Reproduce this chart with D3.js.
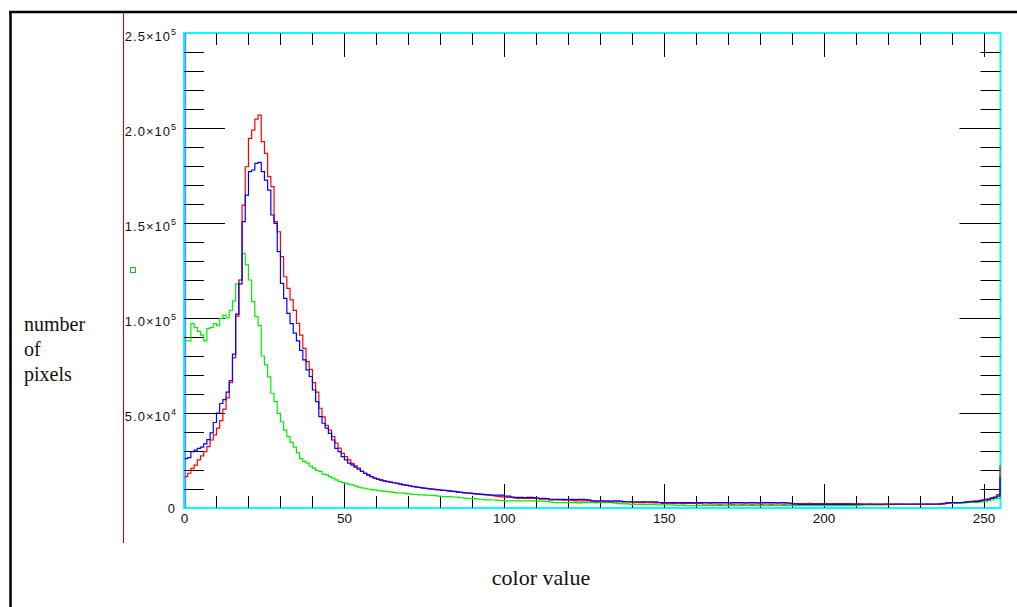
<!DOCTYPE html>
<html>
<head>
<meta charset="utf-8">
<script src="https://d3js.org/d3.v7.min.js"></script>
<style>
	body { margin: 0; background: #fff; }
	svg { display: block; }
</style>
</head>
<body>
<svg id="chart" width="1017" height="607"></svg>
<script>
// pixel counts per color value 0..255, in thousands
const redCounts = [
	16.5, 18.3, 20.9, 22.6, 25.3, 27.4, 29.7, 32.3, 35.8, 38.5,
	42, 46, 52, 58, 66, 79, 101, 120, 159.4, 179.6,
	194.5, 198.9, 204.7, 206.8, 192.8, 186.6, 174.4, 169.1, 150.7, 145.4,
	132.3, 121.7, 115.6, 109.5, 104, 97.2, 91, 84, 77, 73,
	66, 61, 52.5, 48, 43.5, 41, 37.6, 34.2, 31.5, 28.8,
	27, 25.3, 23.5, 22.2, 21, 19.4, 18.3, 17.4, 16.5, 15.7,
	15.2, 14.8, 14.3, 14, 13.6, 13.3, 13, 12.6, 12.2, 11.9,
	11.6, 11.3, 11, 10.8, 10.5, 10.3, 10.1, 9.9, 9.7, 9.5,
	9.3, 9.2, 9, 8.8, 8.6, 8.4, 8.2, 8, 7.8, 7.7,
	7.5, 7.3, 7.2, 7, 6.9, 6.7, 6.5, 6.3, 6, 5.9,
	5.7, 5.6, 5.6, 5.2, 5.1, 5.1, 5.1, 5, 5.1, 5,
	5, 4.7, 4.7, 4.6, 4.3, 4.2, 4.2, 4.2, 4.1, 4.2,
	4.1, 3.9, 3.8, 3.8, 3.8, 3.7, 3.8, 3.7, 3.4, 3.3,
	3.3, 3.3, 3.2, 3.3, 3.3, 3.2, 3.3, 3.2, 3.3, 3.1,
	2.8, 2.9, 2.8, 2.8, 2.9, 2.8, 2.8, 2.7, 2.8, 2.4,
	2.4, 2.5, 2.4, 2.4, 2.5, 2.4, 2.3, 2.4, 2.4, 2.4,
	2.3, 2.3, 2.1, 2.1, 2.2, 2.1, 2.1, 2, 2.1, 2.1,
	2.1, 2, 2.1, 2.1, 2, 2.1, 2.1, 2, 2.1, 2.1,
	2, 2.1, 2.1, 2, 2.1, 2.1, 2.1, 2, 2.1, 2.2,
	2.3, 2.3, 2.3, 2.3, 2.3, 2.4, 2.3, 2.3, 2.3, 2.3,
	2.3, 2.3, 2.3, 2.3, 2.3, 2.3, 2.3, 2.3, 2.3, 2.2,
	2.2, 2.0, 1.9, 1.9, 2.0, 1.9, 1.9, 1.9, 1.9, 2.0,
	1.9, 1.9, 1.9, 2.0, 1.9, 1.9, 1.9, 1.9, 2.0, 1.9,
	1.9, 1.9, 2.0, 1.9, 1.9, 2.0, 2.0, 2.2, 2.6, 2.7,
	2.8, 2.8, 2.9, 3.0, 3.2, 3.4, 3.6, 3.7, 3.9, 4.2,
	4.5, 4.8, 5.4, 5.8, 7.0, 22.5
];

const greenCounts = [
	88, 88, 97, 95, 93, 91, 88, 94.5, 95, 97,
	96, 99.8, 101.5, 100, 104, 109, 118, 120, 134, 128,
	120, 108.6, 100.7, 96, 80, 75.3, 69, 60.4, 56, 49.8,
	45.4, 41, 37.6, 34.5, 32, 29, 26, 24.5, 23.6, 22,
	21, 19.8, 19.2, 17.8, 17.4, 16.5, 15.7, 14.8, 14, 13.5,
	13, 12.6, 12.2, 11.6, 11, 10.6, 10.4, 10, 9.7, 9.5,
	9.2, 9, 8.8, 8.6, 8.5, 8.2, 8, 7.9, 7.8, 7.6,
	7.4, 7.2, 7.1, 6.9, 6.9, 6.8, 6.7, 6.6, 6.5, 6.2,
	6.1, 6, 6, 5.9, 5.8, 5.7, 5.4, 5.2, 5.1, 5,
	4.9, 4.8, 4.6, 4.4, 4.3, 4.3, 4.2, 4.1, 4.0, 3.9,
	3.8, 3.8, 3.8, 3.8, 3.8, 3.7, 3.8, 3.8, 3.7, 3.7,
	3.7, 3.6, 3.6, 3.5, 3.2, 2.9, 2.8, 2.8, 2.8, 2.8,
	2.8, 2.8, 2.8, 2.6, 2.8, 2.8, 2.8, 2.8, 2.7, 2.8,
	2.8, 2.8, 2.8, 2.8, 2.6, 2.3, 2.3, 2.2, 2.3, 1.9,
	1.9, 1.9, 1.9, 1.9, 1.9, 1.9, 1.9, 1.7, 1.6, 1.6,
	1.6, 1.6, 1.6, 1.5, 1.4, 1.5, 1.3, 1.2, 1.2, 1.2,
	1.3, 1.2, 1.2, 1.2, 1.2, 1.3, 1.2, 1.2, 1.2, 1.2,
	1.2, 1.2, 1.3, 1.2, 1.2, 1.2, 1.2, 1.3, 1.2, 1.2,
	1.2, 1.2, 1.2, 1.2, 1.3, 1.2, 1.2, 1.2, 1.2, 1.2,
	1.2, 1.2, 1.2, 1.2, 1.2, 1.2, 1.2, 1.2, 1.2, 1.2,
	1.2, 1.2, 1.2, 1.2, 1.2, 1.2, 1.2, 1.3, 1.3, 1.3,
	1.4, 1.5, 1.6, 1.6, 1.6, 1.6, 1.6, 1.6, 1.6, 1.7,
	1.7, 1.8, 1.9, 1.9, 1.9, 1.9, 1.9, 1.9, 1.9, 1.9,
	1.9, 1.9, 1.9, 1.9, 1.9, 1.9, 2.0, 2.2, 2.4, 2.4,
	2.4, 2.4, 2.4, 2.5, 2.8, 2.9, 2.9, 3.0, 3.2, 3.2,
	3.3, 4.0, 4.2, 4.9, 5.0, 12
];

const blueCounts = [
	26, 26.5, 29.6, 30.5, 31.4, 32, 33.7, 36, 39.5, 45,
	50, 55, 57, 61, 67, 81, 102, 118, 150.7, 164.7,
	177, 177.9, 181.4, 181.9, 177, 172.6, 167.3, 154.2, 149.8, 134.9,
	118.2, 110.3, 102.4, 97, 92, 88, 83, 78, 72.7, 69.2,
	62.1, 56, 48.1, 44.6, 42, 39.3, 35.8, 31.4, 29.7, 27,
	25.3, 23.6, 22.7, 21.5, 20.4, 19.2, 18.2, 17.3, 16.5, 15.8,
	15.2, 14.7, 14.3, 13.9, 13.6, 13.3, 13, 12.7, 12.3, 12,
	11.7, 11.4, 11.1, 10.9, 10.6, 10.4, 10.2, 10, 9.8, 9.6,
	9.4, 9.3, 9.1, 8.9, 8.7, 8.5, 8.3, 8.1, 7.9, 7.8,
	7.6, 7.4, 7.3, 7.2, 7, 6.9, 6.8, 6.8, 6.8, 6.8,
	6.2, 6.2, 5.8, 5.6, 5.6, 5.6, 5.5, 5.6, 5.6, 5.5,
	5.2, 5.1, 5.1, 5.0, 4.6, 4.5, 4.5, 4.5, 4.5, 4.4,
	4.5, 4.5, 4.4, 4.5, 4.5, 4.4, 4.3, 3.8, 3.7, 3.7,
	3.7, 3.7, 3.7, 3.6, 3.7, 3.7, 3.6, 3.4, 3.3, 3.3,
	3.3, 3.3, 3.3, 3.2, 3.3, 3.3, 3.3, 3.2, 2.9, 2.8,
	2.8, 2.8, 2.8, 2.8, 2.8, 2.8, 2.8, 2.8, 2.8, 2.7,
	2.8, 2.8, 2.8, 2.8, 2.7, 2.8, 2.8, 2.8, 2.8, 2.8,
	2.7, 2.8, 2.8, 2.8, 2.8, 2.7, 2.8, 2.8, 2.8, 2.7,
	2.8, 2.8, 2.8, 2.8, 2.8, 2.7, 2.8, 2.8, 2.7, 2.6,
	2.0, 2.0, 1.9, 1.9, 1.9, 1.9, 1.9, 1.9, 1.9, 1.9,
	1.9, 1.9, 1.9, 1.9, 1.9, 1.9, 1.9, 1.9, 1.9, 1.9,
	2.0, 2.1, 2.1, 2.1, 2.1, 2.1, 2.1, 2.1, 2.1, 2.1,
	2.1, 2.1, 2.1, 2.1, 2.1, 2.1, 2.1, 2.1, 2.1, 2.1,
	2.1, 2.1, 2.1, 2.1, 2.1, 2.1, 2.2, 2.5, 2.7, 2.8,
	2.8, 2.8, 2.8, 2.9, 3.1, 3.3, 3.3, 3.4, 3.5, 4.0,
	4.2, 4.6, 5.1, 5.6, 6.2, 16.5
];

const xLabelTicks = [0, 50, 100, 150, 200, 250];
const yLabelTicks = [0, 50000, 100000, 150000, 200000, 250000];
const yTickMantissa = ["0", "5.0\u00d710", "1.0\u00d710", "1.5\u00d710", "2.0\u00d710", "2.5\u00d710"];
const yTickExponent = ["", "4", "5", "5", "5", "5"];
const yTitleLines = ["number", "of", "pixels"];
const xTitle = "color value";

const svg = d3.select("#chart");
const frame = { left: 184, right: 1000.5, top: 33, bottom: 508 };

const x = d3.scaleLinear().domain([0, 255]).range([frame.left + 0.5, 1000]);
const y = d3.scaleLinear().domain([0, 250000]).range([frame.bottom, frame.top]);

// outer table lines
svg.append("line").attr("x1", 9).attr("x2", 1017).attr("y1", 12).attr("y2", 12)
	.attr("stroke", "#000").attr("stroke-width", 2.5);
svg.append("line").attr("x1", 10.5).attr("x2", 10.5).attr("y1", 11).attr("y2", 607)
	.attr("stroke", "#000").attr("stroke-width", 2.5);
svg.append("line").attr("x1", 123.5).attr("x2", 123.5).attr("y1", 13).attr("y2", 543)
	.attr("stroke", "#c80000").attr("stroke-width", 1);

// plot frame (under the curves so the end spike stays visible)
svg.append("rect")
	.attr("x", frame.left).attr("y", frame.top)
	.attr("width", frame.right - frame.left).attr("height", frame.bottom - frame.top)
	.attr("fill", "none").attr("stroke", "#00ffff").attr("stroke-width", 2);
svg.append("line").attr("x1", frame.left + 1.5).attr("x2", frame.left + 1.5)
	.attr("y1", frame.top).attr("y2", frame.bottom)
	.attr("stroke", "#7777ff").attr("stroke-width", 1.3);

// ticks, all pointing inward
const ticks = svg.append("g").attr("stroke", "#000").attr("stroke-width", 1);
const yMinor = d3.range(10000, 250000, 10000).filter((v) => v % 50000 !== 0);
const xMinor = d3.range(10, 255, 10).filter((v) => v % 50 !== 0);

yMinor.forEach((v) => {
	const yy = Math.round(y(v)) + 0.5;
	ticks.append("line").attr("x1", frame.left).attr("x2", frame.left + 20).attr("y1", yy).attr("y2", yy);
	ticks.append("line").attr("x1", frame.right - 20).attr("x2", frame.right).attr("y1", yy).attr("y2", yy);
});
yLabelTicks.slice(1, -1).forEach((v) => {
	const yy = Math.round(y(v)) + 0.5;
	ticks.append("line").attr("x1", frame.left).attr("x2", frame.left + 41).attr("y1", yy).attr("y2", yy);
	ticks.append("line").attr("x1", frame.right - 41).attr("x2", frame.right).attr("y1", yy).attr("y2", yy);
});
xMinor.forEach((v) => {
	const xx = Math.round(x(v)) + 0.5;
	ticks.append("line").attr("x1", xx).attr("x2", xx).attr("y1", frame.top).attr("y2", frame.top + 12);
	ticks.append("line").attr("x1", xx).attr("x2", xx).attr("y1", frame.bottom - 12).attr("y2", frame.bottom);
});
xLabelTicks.slice(1).forEach((v) => {
	const xx = Math.round(x(v)) + 0.5;
	ticks.append("line").attr("x1", xx).attr("x2", xx).attr("y1", frame.top).attr("y2", frame.top + 24);
	ticks.append("line").attr("x1", xx).attr("x2", xx).attr("y1", frame.bottom - 24).attr("y2", frame.bottom);
});

// histograms
const line = d3.line()
	.x((d, i) => x(i))
	.y((d) => y(d * 1000))
	.curve(d3.curveStepAfter);

const series = [
	{ values: greenCounts, color: "#00ee00" },
	{ values: redCounts, color: "#ff0000" },
	{ values: blueCounts, color: "#0000ff" },
];
svg.selectAll("path.hist")
	.data(series)
	.enter()
	.append("path")
	.attr("class", "hist")
	.attr("d", (s) => line(s.values))
	.attr("fill", "none")
	.attr("stroke", (s) => s.color)
	.attr("stroke-width", 1.2)
	.attr("stroke-linejoin", "miter");

// tick labels
const labelFont = "'Liberation Sans', Arial, sans-serif";
const yLab = svg.append("g").attr("font-family", labelFont).attr("font-size", 13).attr("fill", "#111");
yLabelTicks.forEach((v, i) => {
	const t = yLab.append("text")
		.attr("x", i === 0 ? 175 : 176)
		.attr("y", y(v) + (i === 0 ? 5 : 8))
		.attr("text-anchor", "end")
		.attr("letter-spacing", i === 0 ? 0 : 1)
		.text(yTickMantissa[i]);
	if (yTickExponent[i]) {
		t.append("tspan").attr("font-size", 9).attr("dy", -6.5).attr("letter-spacing", 0).text(yTickExponent[i]);
	}
});
svg.append("g").attr("font-family", labelFont).attr("font-size", 13.5).attr("fill", "#111")
	.selectAll("text")
	.data(xLabelTicks)
	.enter()
	.append("text")
	.attr("x", (d) => x(d))
	.attr("y", frame.bottom + 15)
	.attr("text-anchor", "middle")
	.text((d) => d);

// small green marker in the label cell
svg.append("rect").attr("x", 130.5).attr("y", 267.5).attr("width", 5).attr("height", 5)
	.attr("fill", "none").attr("stroke", "#22bb22").attr("stroke-width", 1);

// axis titles
const serif = "'Liberation Serif', 'Times New Roman', serif";
svg.append("g").attr("font-family", serif).attr("font-size", 20).attr("fill", "#111")
	.selectAll("text")
	.data(yTitleLines)
	.enter()
	.append("text")
	.attr("x", 24)
	.attr("y", (d, i) => 331 + i * 25)
	.text((d) => d);
svg.append("text")
	.attr("x", 541).attr("y", 585)
	.attr("text-anchor", "middle")
	.attr("font-family", serif).attr("font-size", 22).attr("fill", "#111")
	.text(xTitle);
</script>
</body>
</html>
